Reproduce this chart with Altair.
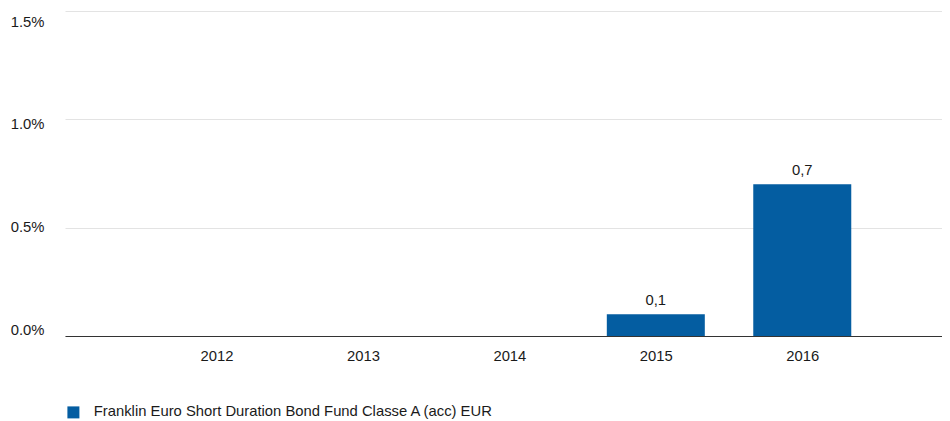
import altair as alt
import pandas as pd

years = [2012, 2013, 2014, 2015, 2016]
values = [None, None, None, 0.1, 0.7]
series_name = "Franklin Euro Short Duration Bond Fund Classe A (acc) EUR"
y_ticks = [0, 0.5, 1.0, 1.5]

df = pd.DataFrame({"year": years, "value": values, "series": [series_name] * len(years)})

FONT = "Liberation Sans"
FS = 14.8
BLUE = "#045DA1"
TXT = "#1a1a1a"

x = alt.X("year:Q",
          scale=alt.Scale(domain=[2011, 2016.92], nice=False, zero=False),
          axis=alt.Axis(values=years, format="d", title=None, grid=False, ticks=False,
                        domain=True, domainColor="#333333", domainWidth=1.2,
                        labelPadding=12, labelFontSize=FS, labelFont=FONT,
                        labelColor=TXT))
y = alt.Y("value:Q",
          scale=alt.Scale(domain=[0, 1.5], nice=False),
          axis=alt.Axis(values=y_ticks, title=None, domain=False, ticks=False,
                        grid=True, gridColor="#e3e3e3", gridWidth=1,
                        labelExpr="format(datum.value, '.1f') + '%'",
                        labelPadding=21, labelFontSize=FS, labelFont=FONT,
                        labelColor=TXT,
                        labelOffset={"expr": "-6 + datum.value * 11.5"}))

bars = alt.Chart(df).mark_bar(size=98).encode(
    x=x, y=y,
    color=alt.Color("series:N",
                    scale=alt.Scale(range=[BLUE]),
                    legend=alt.Legend(title=None, orient="none", legendX=1, legendY=394,
                                      symbolType="square", symbolSize=144,
                                      symbolStrokeWidth=0, labelFont=FONT,
                                      labelFontSize=FS, labelColor=TXT,
                                      labelOffset=13, labelLimit=800)),
)

labels = alt.Chart(df).transform_filter("isValid(datum.value)").transform_calculate(
    lbl="replace(format(datum.value, '.1f'), '.', ',')"
).mark_text(baseline="bottom", dy=-6, font=FONT, fontSize=FS, color=TXT).encode(
    x="year:Q", y="value:Q", text="lbl:N"
)

chart = alt.layer(bars, labels).properties(
    width=877, height=325,
    autosize=alt.AutoSizeParams(type="none"),
    padding={"left": 57, "top": 3, "right": 0, "bottom": 84},
).configure_view(stroke=None)

chart.save("out.html", embed_options={"renderer": "svg", "actions": False})
